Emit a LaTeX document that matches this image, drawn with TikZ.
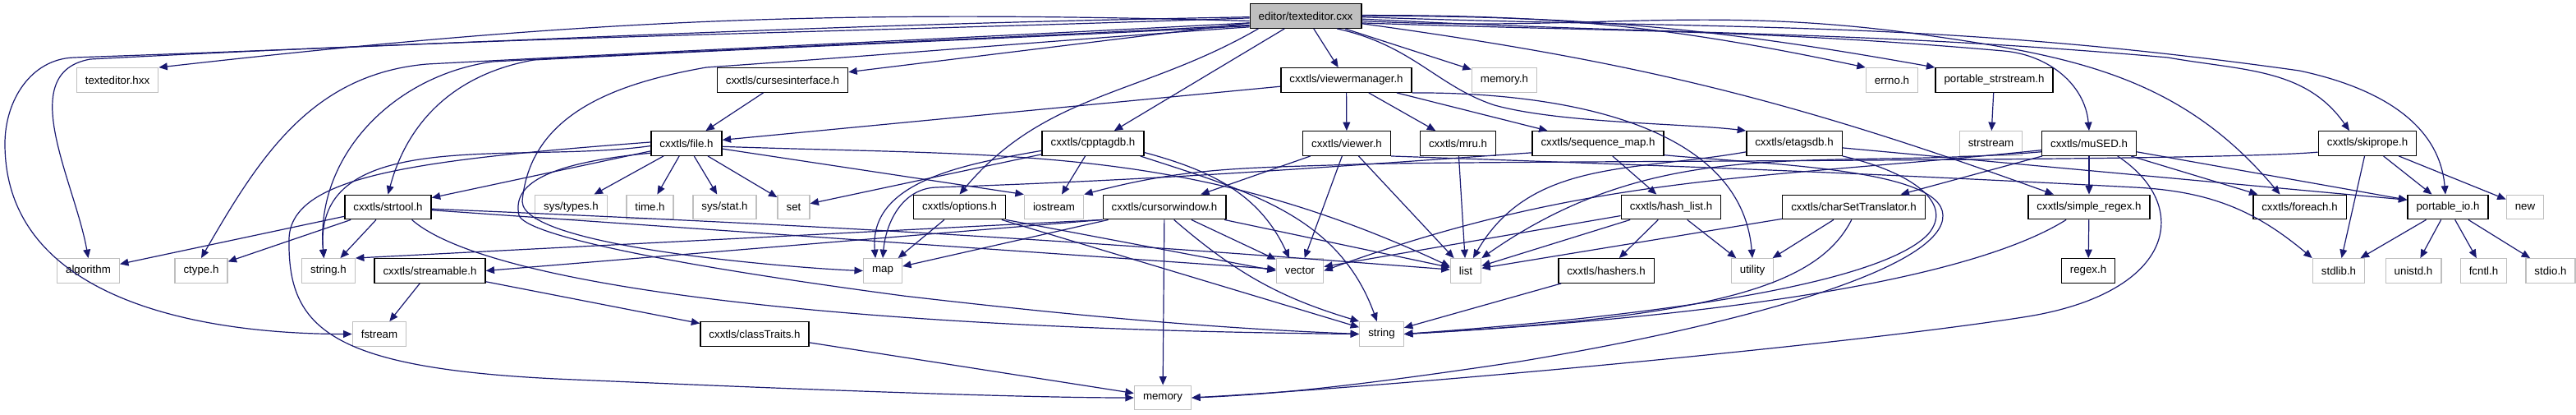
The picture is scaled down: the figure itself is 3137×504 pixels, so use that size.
\documentclass[tikz,border=0pt]{standalone}
\usepackage{fontspec}
\setmainfont{Liberation Sans}
\usetikzlibrary{arrows.meta}
\definecolor{depblue}{RGB}{25,25,112}
\definecolor{boxgray}{RGB}{191,191,191}
\tikzset{
  hdr/.style={draw=black, line width=0.35pt, fill=white, minimum height=7.375pt,
    inner xsep=2.625pt, inner ysep=0pt, font=\fontsize{3.325}{4}\selectfont},
  sys/.style={hdr, draw=boxgray},
  top/.style={hdr, fill=boxgray},
  dep/.style={draw=depblue, line width=0.3pt, -{Triangle[length=2.6pt,width=2.2pt]}}
}
\begin{document}
\begin{tikzpicture}[x=0.25pt, y=0.25pt, every edge/.style={dep}]
  \useasboundingbox (0,0) rectangle (3137,-504);

  \node[top] (root) at (1590,-19.5) {editor/texteditor.cxx};

  \node[sys] (hxx)        at (143,-97.5)    {texteditor.hxx};
  \node[hdr] (curses)     at (953,-97.5)    {cxxtls/cursesinterface.h};
  \node[hdr] (vmgr)       at (1639.5,-97.5) {cxxtls/viewermanager.h};
  \node[sys] (memoryh)    at (1832,-97.5)   {memory.h};
  \node[sys] (errno)      at (2304,-97.5)   {errno.h};
  \node[hdr] (pstrstream) at (2428.5,-97.5) {portable\_strstream.h};

  \node[hdr] (file)      at (836,-174.5)    {cxxtls/file.h};
  \node[hdr] (cpptagdb)  at (1331,-174.5)   {cxxtls/cpptagdb.h};
  \node[hdr] (viewer)    at (1640,-174.5)   {cxxtls/viewer.h};
  \node[hdr] (mru)       at (1775.5,-174.5) {cxxtls/mru.h};
  \node[hdr] (seqmap)    at (1946,-174.5)   {cxxtls/sequence\_map.h};
  \node[hdr] (etagsdb)   at (2185,-174.5)   {cxxtls/etagsdb.h};
  \node[sys] (strstream) at (2424.5,-174.5) {strstream};
  \node[hdr] (mused)     at (2544,-174.5)   {cxxtls/muSED.h};
  \node[hdr] (skiprope)  at (2883,-174.5)   {cxxtls/skiprope.h};

  \node[hdr] (strtool)   at (472.5,-252)  {cxxtls/strtool.h};
  \node[sys] (systypes)  at (695.5,-252)  {sys/types.h};
  \node[sys] (timeh)     at (791.5,-252)  {time.h};
  \node[sys] (sysstat)   at (882.5,-252)  {sys/stat.h};
  \node[sys] (set)       at (966.5,-252)  {set};
  \node[hdr] (options)   at (1168.5,-252) {cxxtls/options.h};
  \node[sys] (iostream)  at (1283.5,-252) {iostream};
  \node[hdr] (cursorwin) at (1418,-252)   {cxxtls/cursorwindow.h};
  \node[hdr] (hashlist)  at (2035,-252)   {cxxtls/hash\_list.h};
  \node[hdr] (charset)   at (2257.5,-252) {cxxtls/charSetTranslator.h};
  \node[hdr] (sregex)    at (2544,-252)   {cxxtls/simple\_regex.h};
  \node[hdr] (foreach)   at (2800.5,-252) {cxxtls/foreach.h};
  \node[hdr] (pio)       at (2981,-252)   {portable\_io.h};
  \node[sys] (new)       at (3075,-252)   {new};

  \node[sys] (algorithm)  at (107.5,-329.5)  {algorithm};
  \node[sys] (ctype)      at (245,-329.5)    {ctype.h};
  \node[sys] (stringh)    at (400,-329.5)    {string.h};
  \node[hdr] (streamable) at (523.5,-329.5)  {cxxtls/streamable.h};
  \node[sys] (map)        at (1075,-329.5)   {map};
  \node[sys] (vector)     at (1583,-329.5)   {vector};
  \node[sys] (list)       at (1785,-329.5)   {list};
  \node[hdr] (hashers)    at (1956,-329.5)   {cxxtls/hashers.h};
  \node[sys] (utility)    at (2134,-329.5)   {utility};
  \node[hdr] (regex)      at (2543,-329.5)   {regex.h};
  \node[sys] (stdlib)     at (2848,-329.5)   {stdlib.h};
  \node[sys] (unistd)     at (2939,-329.5)   {unistd.h};
  \node[sys] (fcntl)      at (3024.5,-329.5) {fcntl.h};
  \node[sys] (stdio)      at (3106,-329.5)   {stdio.h};

  \node[sys] (fstream)     at (462,-406.5)    {fstream};
  \node[hdr] (classtraits) at (919,-406.5)    {cxxtls/classTraits.h};
  \node[sys] (string)      at (1682.5,-406.5) {string};

  \node[sys] (memory) at (1416,-484) {memory};

  \path
    (root.185) edge[bend right=4] (hxx.north east)
    (root) edge (curses)
    (root.-165) edge[out=-150,in=50] (options.north)
    (root) edge (cpptagdb)
    (root) edge (vmgr)
    (root) edge (memoryh)
    (root) edge[bend left=6] (errno.north west)
    (root) edge[bend left=5] (pstrstream.north west)
    (root) edge[bend left=6] (sregex)
    (curses) edge (file)
    (vmgr) edge (viewer)
    (vmgr) edge (mru)
    (vmgr) edge (seqmap)
    (vmgr) edge (file)
    (file) edge (systypes)
    (file) edge (timeh)
    (file) edge (sysstat)
    (file) edge (set)
    (file) edge (strtool)
    (file) edge (iostream.north west)
    (file.-176) edge[out=188,in=95] (stringh.110)
    (file.-5) edge[out=-2,in=155] (list.165)
    (strtool) edge (algorithm)
    (strtool) edge (ctype)
    (strtool) edge (stringh)
    (strtool) edge (vector)
    (strtool) edge[bend left=1] (list)
    (streamable) edge (fstream)
    (streamable) edge (classtraits)
    (classtraits) edge (memory)
    (cpptagdb) edge (iostream)
    (cpptagdb) edge (set)
    (cpptagdb.-172) edge[out=190,in=95] (map.120)
    (cpptagdb.-10) edge[out=-15,in=115] (vector.130)
    (cpptagdb.-15) edge[out=-18,in=110] (string.110)
    (options) edge (map)
    (options.south east) edge (vector.west)
    (options) edge (string)
    (cursorwin.south west) edge (stringh.north east)
    (cursorwin.south west) edge (streamable.east)
    (cursorwin) edge (map)
    (cursorwin) edge (vector)
    (cursorwin) edge (list)
    (cursorwin.-53) edge[bend right=12] (string.north west)
    (cursorwin) edge (memory)
    (viewer) edge (cursorwin)
    (viewer) edge (vector)
    (viewer) edge (list)
    (mru) edge (list)
    (seqmap) edge (hashlist)
    (etagsdb.-170) edge[out=190,in=60] (list.60)
    (etagsdb) edge (pio.170)
    (hashlist) edge (hashers)
    (hashlist) edge (utility)
    (hashlist) edge (list)
    (hashlist) edge (vector)
    (hashers) edge (string)
    (charset) edge (utility)
    (charset) edge (list)
    (sregex) edge (regex)
    (mused) edge (sregex)
    (mused) edge (charset)
    (mused) edge (foreach)
    (mused) edge (pio)
    (mused.-172) edge[out=186,in=20] (vector.east)
    (mused.-170) edge[out=185,in=35] (list.north east)
    (skiprope) edge (stdlib)
    (skiprope) edge (pio)
    (skiprope) edge (new)
    (pio) edge (stdlib)
    (pio) edge (unistd)
    (pio) edge (fcntl)
    (pio) edge (stdio)
    (pstrstream) edge (strstream);

  % long ways round
  \draw[dep] (root.181) to[out=181,in=2] (90,-70) to[out=182,in=90] (6,-175)
    to[out=-90,in=180] (fstream.west);
  \draw[dep] (root.182) to[out=182,in=3] (110,-72) to[out=190,in=100] (algorithm.north);
  \draw[dep] (root.187) to[out=183,in=3] (520,-78) to[out=185,in=60] (ctype.north);
  \draw[dep] (root.189) to[out=183,in=3] (600,-75) to[out=188,in=95] (stringh.110);
  \draw[dep] (root.190) to[out=183,in=3] (650,-73) to[out=190,in=75] (strtool.north);
  \draw[dep] (root.191) to[out=184,in=4] (860,-82) to[out=190,in=85] (636,-245)
    to[out=-90,in=178,looseness=0.35] (map.west);
  \draw[dep] (root.-22) .. controls (1720,-55) and (1750,-105) .. (1820,-128)
    .. controls (1900,-150) and (2050,-150) .. (etagsdb.north west);
  \draw[dep] (root.-7) to[out=-2,in=175] (2440,-62) to[out=-5,in=95] (mused.north);
  \draw[dep] (root.-5) to[out=-3,in=172] (2340,-42) to[out=-8,in=130] ([xshift=-6pt]foreach.north);
  \draw[dep] (root.-3) to[out=-3,in=175] (2640,-70) to[out=-10,in=125] ([xshift=-5.5pt]skiprope.north);
  \draw[dep] (root.-1) to[out=-2,in=172] (2800,-86) to[out=-12,in=95] ([xshift=-0.75pt]pio.north);
  \draw[dep] (vmgr.south east) .. controls (1900,-112) and (2120,-150) .. (utility.north);
  \draw[dep] (file.-165) .. controls (650,-200) and (625,-230) .. (632,-262)
    .. controls (640,-285) and (800,-320) .. (1100,-360)
    .. controls (1400,-395) and (1550,-402) .. (string.west);
  \draw[dep] (file.178) .. controls (500,-195) and (355,-215) .. (352,-290)
    .. controls (350,-400) and (400,-450) .. (700,-462)
    .. controls (1000,-475) and (1250,-484) .. (memory.west);
  \draw[dep] (strtool.-28) .. controls (590,-345) and (1000,-400) .. (string.west);
  \draw[dep] (viewer.south east) to[out=-2,in=177] (2600,-228) to[out=-3,in=140] (stdlib.north west);
  \draw[dep] (seqmap.-172) to[out=184,in=2] (1140,-228) to[out=182,in=85] (map.north);
  \draw[dep] (seqmap.-10) .. controls (2150,-200) and (2365,-205) .. (2366,-262)
    .. controls (2368,-322) and (2150,-390) .. (1850,-440)
    .. controls (1650,-470) and (1550,-480) .. (memory.east);
  \draw[dep] (etagsdb.south east) .. controls (2330,-210) and (2380,-248) .. (2348,-285)
    .. controls (2300,-335) and (2100,-378) .. (string.east);
  \draw[dep] (charset.-100) .. controls (2215,-345) and (2100,-385) .. (string.east);
  \draw[dep] (sregex.-151) .. controls (2400,-340) and (2100,-385) .. (string.east);
  \draw[dep] (mused.-24) .. controls (2670,-250) and (2650,-355) .. (2470,-385)
    .. controls (2250,-420) and (1700,-470) .. (memory.east);
  \draw[dep] (skiprope.-170) to[out=185,in=2,looseness=0.3] (1650,-200)
    to[out=182,in=15] (iostream.north east);
\end{tikzpicture}
\end{document}
